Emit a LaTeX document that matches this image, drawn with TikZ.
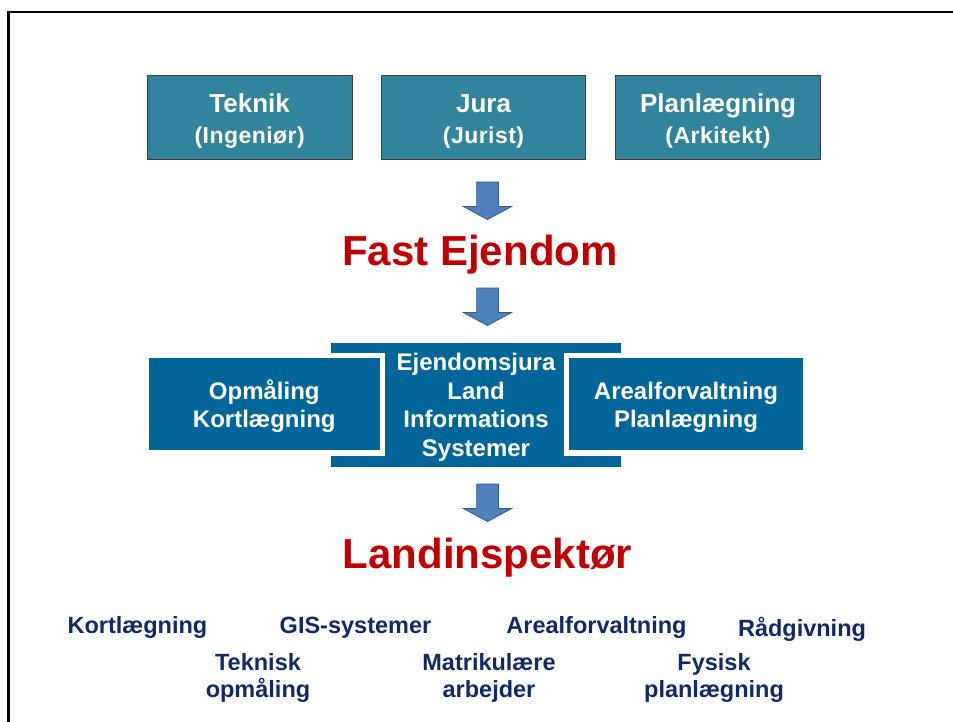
\documentclass[tikz,border=0pt]{standalone}
\usepackage{fontspec}
\setmainfont{Liberation Sans}
\newfontfamily\subfont[LetterSpace=2]{Liberation Sans}
\definecolor{topfill}{HTML}{31849B}
\definecolor{midfill}{HTML}{00669A}
\definecolor{arrfill}{HTML}{4F81BD}
\definecolor{arrline}{HTML}{385D8A}
\definecolor{redtxt}{HTML}{C00000}
\definecolor{navytxt}{HTML}{102A68}
\tikzset{
  topbox/.style={rectangle, fill=topfill, draw=black!75, line width=1pt, inner sep=0pt, outer sep=0pt},
  midbox/.style={rectangle, fill=midfill, inner sep=0pt, outer sep=0pt},
  sidebox/.style={midbox, preaction={draw=white, line width=11pt}},
  toptitle/.style={anchor=base, text=white, font=\fontsize{26}{28}\selectfont\bfseries, inner sep=0pt},
  topsub/.style={anchor=base, text=white, font=\fontsize{23}{25}\subfont\bfseries, inner sep=0pt},
  midtext/.style={anchor=base, text=white, align=center, font=\fontsize{24}{28.8}\selectfont\bfseries, inner sep=0pt},
  bigred/.style={anchor=base, text=redtxt, font=\fontsize{42}{46}\selectfont\bfseries, inner sep=0pt},
  bottomtext/.style={anchor=base, text=navytxt, align=center, font=\fontsize{23.5}{27}\selectfont\bfseries, inner sep=0pt},
  blockarrow/.pic={\path[fill=arrfill, draw=arrline, line width=0.9pt, line join=miter]
     (-10.8,0) -- (10.8,0) -- (10.8,24.5) -- (24,24.5) -- (0,37.5) -- (-24,24.5) -- (-10.8,24.5) -- cycle;}
}
\begin{document}
\begin{tikzpicture}[x=1pt, y=-1pt]
\useasboundingbox (0,0) rectangle (953,722);
\fill[white] (0,0) rectangle (953,722);
\clip (0,0) rectangle (953,722);
% frame
\draw[line width=2.7pt] (8.7,730) -- (8.7,12) -- (960,12);

% top boxes
\node[topbox, minimum width=204.7pt, minimum height=83.6pt] (tek) at (249.7,117.5) {};
\node[topbox, minimum width=204.7pt, minimum height=83.6pt] (jur) at (483.5,117.5) {};
\node[topbox, minimum width=204.7pt, minimum height=83.6pt] (pla) at (718,117.5) {};
\node[toptitle] (tekt) at (249.7,112.7) {Teknik};
\node[topsub]   (teks) at (249.7,144) {(Ingeniør)};
\node[toptitle] (jurt) at (483.5,112.7) {Jura};
\node[topsub]   (jurs) at (483.5,144) {(Jurist)};
\node[toptitle] (plat) at (718,112.7) {Planlægning};
\node[topsub]   (plas) at (718,144) {(Arkitekt)};

% arrows
\pic (arr1) at (487.5,182) {blockarrow};
\pic (arr2) at (487.5,288) {blockarrow};
\pic (arr3) at (487.5,484) {blockarrow};

\node[bigred] (fast) at (480,265.7) {Fast Ejendom};

% middle boxes
\node[midbox, minimum width=290.3pt, minimum height=124.5pt] (cen) at (475.85,404.75) {};
\node[sidebox, minimum width=230.5pt, minimum height=92pt] (lft) at (264.25,404) {};
\node[sidebox, minimum width=234pt, minimum height=92pt] (rgt) at (686,404) {};
% multi-line nodes: base anchor = baseline of last line
\node[midtext] (lftt) at (264.25,427.8) {Opmåling\\Kortlægning};
\node[midtext] (cent) at (476,456.7) {Ejendomsjura\\Land\\Informations\\Systemer};
\node[midtext] (rgtt) at (686,427.8) {Arealforvaltning\\Planlægning};

\node[bigred] (land) at (487.5,568) {Landinspektør};

% bottom labels
\node[bottomtext] (b1) at (137.5,633.3) {Kortlægning};
\node[bottomtext] (b2) at (355.5,633.3) {GIS-systemer};
\node[bottomtext] (b3) at (596.5,633.3) {Arealforvaltning};
\node[bottomtext] (b4) at (802,636) {Rådgivning};
\node[bottomtext] (b5) at (258,697.5) {Teknisk\\opmåling};
\node[bottomtext] (b6) at (489,697.5) {Matrikulære\\arbejder};
\node[bottomtext] (b7) at (714,697.5) {Fysisk\\planlægning};
\end{tikzpicture}
\end{document}
